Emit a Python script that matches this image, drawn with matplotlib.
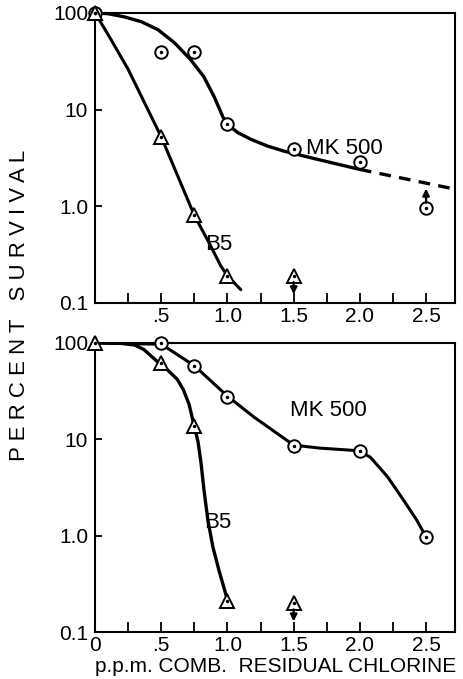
import matplotlib.pyplot as plt
from matplotlib.ticker import FixedLocator, FixedFormatter

plt.rcParams['font.family'] = ['Liberation Sans', 'DejaVu Sans']

# ---- upper panel: measured points ----
mk_x_top = [0, 0.5, 0.75, 1.0, 1.5, 2.0, 2.5]
mk_y_top = [100, 39, 39, 7.1, 3.9, 2.9, 0.95]
b5_x_top = [0, 0.5, 0.75, 1.0, 1.5]
b5_y_top = [100, 5.2, 0.81, 0.19, 0.19]

# upper panel: hand drawn curves
mk_cx_top = [0, 0.1, 0.22, 0.35, 0.475, 0.6, 0.72, 0.82, 0.9, 0.965, 1.0, 1.08, 1.18, 1.3, 1.43, 1.68, 2.0]
mk_cy_top = [100, 98, 91, 81, 67, 49, 33, 22, 13.5, 8.4, 7.0, 5.75, 4.9, 4.2, 3.7, 3.05, 2.4]
mk_dx_top = [2.0, 2.72]
mk_dy_top = [2.4, 1.5]
b5_cx_top = [0, 0.12, 0.25, 0.37, 0.5, 0.75, 0.86, 0.95, 1.0, 1.1]
b5_cy_top = [100, 53, 26, 12, 5.2, 0.8, 0.42, 0.24, 0.19, 0.137]

# ---- lower panel ----
mk_x_bot = [0.5, 0.75, 1.0, 1.5, 2.0, 2.5]
mk_y_bot = [100, 58, 27.5, 8.5, 7.6, 0.97]
b5_x_bot = [0, 0.5, 0.75, 1.0, 1.5]
b5_y_bot = [100, 62, 13.7, 0.21, 0.2]

mk_cx_bot = [0, 0.25, 0.5, 0.75, 1.0, 1.2, 1.5, 1.7, 2.0, 2.08, 2.21, 2.33, 2.43, 2.5]
mk_cy_bot = [100, 98, 97, 58, 28, 17, 8.7, 8.1, 7.6, 6.5, 4.07, 2.34, 1.45, 0.97]
b5_cx_bot = [0, 0.2, 0.3, 0.37, 0.47, 0.55, 0.62, 0.665, 0.71, 0.747, 0.777, 0.8, 0.822, 0.852, 0.89, 0.935, 0.99]
b5_cy_bot = [100, 99, 95, 85, 64, 52, 42, 33, 23, 14, 9.5, 5.7, 3.0, 1.45, 0.76, 0.44, 0.24]

x_major = [0, 0.5, 1.0, 1.5, 2.0, 2.5]
x_minor = [0.25, 0.75, 1.25, 1.75, 2.25]
y_ticks = [0.1, 1, 10, 100]
y_labels = ['0.1', '1.0', '10', '100']

fig = plt.figure(figsize=(4.64, 6.79), dpi=100)
ax1 = fig.add_axes([0.205, 0.554, 0.776, 0.427])
ax2 = fig.add_axes([0.205, 0.069, 0.776, 0.426])


def style(ax, xlabels):
    ax.set_yscale('log')
    ax.set_xlim(0, 2.72)
    ax.set_ylim(0.1, 100)
    for s in ax.spines.values():
        s.set_linewidth(1.5)
    ax.yaxis.set_major_locator(FixedLocator(y_ticks))
    ax.yaxis.set_major_formatter(FixedFormatter(y_labels))
    ax.yaxis.set_minor_locator(FixedLocator([]))
    ax.xaxis.set_major_locator(FixedLocator(x_major))
    ax.xaxis.set_major_formatter(FixedFormatter(xlabels))
    ax.xaxis.set_minor_locator(FixedLocator(x_minor))
    ax.tick_params(axis='x', which='both', direction='in', length=7, width=1.3,
                   labelsize=15, pad=3)
    ax.tick_params(axis='y', which='major', direction='in', length=5, width=1.3,
                   labelsize=15, pad=5)


def points(ax, x, y, marker, size):
    ax.plot(x, y, ls='none', marker=marker, ms=size, mfc='white', mec='k',
            mew=1.4, clip_on=False, zorder=4)
    ax.plot(x, y, ls='none', marker='o', ms=1.5, color='k', clip_on=False, zorder=5)


def arrow(ax, x, y, up):
    props = dict(arrowstyle='-|>', lw=1.6, color='k', mutation_scale=10,
                 shrinkA=0, shrinkB=0)
    if up:
        ax.annotate('', xy=(x, y * 1.6), xytext=(x, y * 1.14), arrowprops=props,
                    zorder=6)
    else:
        ax.annotate('', xy=(x, y / 1.55), xytext=(x, y / 1.16), arrowprops=props,
                    zorder=6)


# upper panel
style(ax1, ['', '.5', '1.0', '1.5', '2.0', '2.5'])
ax1.plot(mk_cx_top, mk_cy_top, color='k', lw=2.4, solid_capstyle='round',
         solid_joinstyle='round')
ax1.plot(mk_dx_top, mk_dy_top, color='k', lw=2.4, ls=(0, (3.5, 2.5)))
ax1.plot(b5_cx_top, b5_cy_top, color='k', lw=2.2, solid_capstyle='round',
         solid_joinstyle='round')
points(ax1, mk_x_top, mk_y_top, 'o', 9)
points(ax1, b5_x_top, b5_y_top, '^', 10)
arrow(ax1, mk_x_top[-1], mk_y_top[-1], True)
arrow(ax1, b5_x_top[-1], b5_y_top[-1], False)
ax1.text(1.59, 4.0, 'MK 500', fontsize=16, va='center', ha='left')
ax1.text(0.83, 0.4, 'B5', fontsize=16, va='center', ha='left')

# lower panel
style(ax2, ['0', '.5', '1.0', '1.5', '2.0', '2.5'])
ax2.plot(mk_cx_bot, mk_cy_bot, color='k', lw=2.2, solid_capstyle='round',
         solid_joinstyle='round')
ax2.plot(b5_cx_bot, b5_cy_bot, color='k', lw=2.4, solid_capstyle='round',
         solid_joinstyle='round')
points(ax2, mk_x_bot, mk_y_bot, 'o', 9)
points(ax2, b5_x_bot, b5_y_bot, '^', 10)
arrow(ax2, b5_x_bot[-1], b5_y_bot[-1], False)
ax2.text(1.47, 20, 'MK 500', fontsize=16, va='center', ha='left')
ax2.text(0.82, 1.38, 'B5', fontsize=16, va='center', ha='left')
ax2.set_xlabel('p.p.m. COMB.  RESIDUAL CHLORINE', fontsize=15, labelpad=1)

fig.text(0.043, 0.55, 'P E R C E N T   S U R V I V A L', rotation=90,
         fontsize=16, ha='center', va='center')

fig.savefig('out.png', dpi=100)
